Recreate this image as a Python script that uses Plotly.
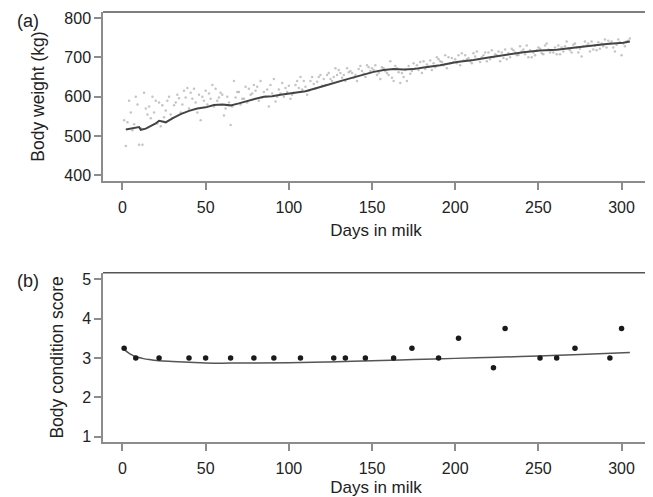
import plotly.graph_objects as go
from plotly.subplots import make_subplots

# (a) daily body weight records (three records per 3-day block)
bw_days_a = list(range(1, 305, 3))
bw_a = [540, 590, 530, 478, 610, 575, 560, 585, 548, 600, 578, 596, 615, 570, 620, 605, 590, 608,
        575, 598, 552, 585, 640, 612, 595, 620, 630, 590, 612, 575, 645, 618, 600, 628, 610, 622,
        640, 615, 632, 650, 645, 660, 650, 668, 655, 662, 648, 670, 658, 675, 668, 660, 672, 655,
        640, 662, 650, 678, 685, 668, 690, 676, 685, 695, 680, 700, 688, 705, 692, 698, 710, 695,
        705, 712, 700, 715, 698, 710, 718, 706, 720, 700, 712, 725, 708, 720, 712, 730, 715, 722,
        732, 712, 728, 735, 720, 738, 728, 742, 725, 745, 735, 742]
bw_days_b = list(range(2, 306, 3))
bw_b = [475, 560, 600, 520, 570, 545, 590, 525, 565, 555, 585, 560, 598, 610, 585, 540, 615, 595,
        620, 610, 570, 528, 598, 580, 625, 605, 615, 640, 600, 630, 588, 608, 622, 595, 630, 650,
        625, 640, 620, 655, 630, 645, 672, 660, 640, 665, 655, 678, 650, 665, 680, 645, 665, 690,
        678, 635, 668, 658, 672, 688, 670, 692, 675, 690, 705, 685, 695, 680, 705, 690, 702, 688,
        712, 695, 708, 690, 720, 700, 712, 728, 708, 718, 705, 722, 730, 712, 725, 708, 728, 718,
        735, 722, 740, 715, 730, 722, 745, 735, 715, 738, 728, 748]
bw_days_c = list(range(3, 306, 3))
bw_c = [535, 515, 580, 478, 555, 600, 532, 578, 590, 545, 605, 580, 622, 595, 560, 600, 580, 630,
        590, 605, 600, 575, 612, 595, 585, 608, 625, 598, 618, 608, 600, 635, 612, 605, 640, 618,
        605, 650, 638, 628, 655, 640, 655, 648, 672, 660, 640, 665, 680, 672, 655, 675, 660, 648,
        672, 660, 640, 665, 680, 660, 682, 668, 700, 688, 672, 698, 685, 710, 695, 685, 715, 700,
        690, 718, 705, 712, 695, 722, 705, 715, 730, 700, 718, 710, 735, 718, 708, 725, 740, 712,
        725, 702, 730, 740, 718, 735, 725, 740, 732, 705, 740]

# (a) fitted body weight curve
fit_days = [2, 6, 8, 10, 11, 14, 20, 22, 24, 26, 30, 35, 40, 45, 50, 55, 60, 65, 70, 75, 80, 85,
            90, 95, 100, 110, 121, 127, 133, 139, 145, 151, 157, 163, 169, 175, 181, 191, 201,
            211, 221, 231, 241, 251, 261, 271, 281, 291, 301, 305]
fit_bw = [517, 520, 523, 523, 516, 519, 532, 539, 537, 535, 545, 556, 564, 570, 573, 579, 580, 578,
          583, 590, 595, 600, 601, 605, 608, 614, 627, 635, 642, 649, 656, 663, 668, 670, 669,
          670, 674, 680, 688, 693, 700, 706, 713, 717, 719, 724, 729, 734, 737, 740]

# (b) body condition score
bcs_days = [1, 8, 22, 40, 50, 65, 79, 91, 107, 127, 134, 146, 163, 174, 190, 202, 223, 230, 251,
            261, 272, 293, 300]
bcs = [3.25, 3.0, 3.0, 3.0, 3.0, 3.0, 3.0, 3.0, 3.0, 3.0, 3.0, 3.0, 3.0, 3.25, 3.0, 3.5, 2.75, 3.75,
       3.0, 3.0, 3.25, 3.0, 3.75]
bcs_fit_days = [1, 3, 5, 8, 12, 16, 22, 30, 40, 50, 65, 80, 100, 124, 150, 175, 200, 225, 250,
                275, 305]
bcs_fit = [3.22, 3.15, 3.09, 3.03, 2.99, 2.96, 2.93, 2.91, 2.89, 2.87, 2.87, 2.87, 2.88, 2.90,
           2.93, 2.96, 2.99, 3.02, 3.05, 3.09, 3.14]

FONT = "Arial, Liberation Sans, sans-serif"

fig = make_subplots(rows=2, cols=1, vertical_spacing=0.213)

for dd, ww in [(bw_days_a, bw_a), (bw_days_b, bw_b), (bw_days_c, bw_c)]:
    fig.add_trace(go.Scatter(x=dd, y=ww, mode="markers",
                             marker=dict(size=2.5, color="rgba(140,140,140,0.5)"),
                             showlegend=False), row=1, col=1)
fig.add_trace(go.Scatter(x=fit_days, y=fit_bw, mode="lines",
                         line=dict(color="#444444", width=2), showlegend=False), row=1, col=1)

fig.add_trace(go.Scatter(x=bcs_fit_days, y=bcs_fit, mode="lines", line_shape="spline",
                         line=dict(color="#555555", width=1.5), showlegend=False), row=2, col=1)
fig.add_trace(go.Scatter(x=bcs_days, y=bcs, mode="markers",
                         marker=dict(size=5.5, color="#1a1a1a"), showlegend=False), row=2, col=1)

ax = dict(showgrid=False, zeroline=False, showline=True, linecolor="#8c8c8c", linewidth=1.5,
          ticks="outside", ticklen=7, tickcolor="#8c8c8c", tickwidth=1.5, automargin=False,
          tickfont=dict(size=16, color="#222"))

for r in (1, 2):
    fig.update_xaxes(ax, range=[-11.7, 316.5], tickvals=[0, 50, 100, 150, 200, 250, 300],
                     ticklabelstandoff=4,
                     title=dict(text="Days in milk", font=dict(size=17, color="#222"), standoff=9),
                     row=r, col=1)
fig.update_yaxes(ax, range=[385.5, 815], tickvals=[400, 500, 600, 700, 800],
                 title=dict(text="Body weight (kg)", font=dict(size=17.5, color="#222"), standoff=15),
                 row=1, col=1)
fig.update_yaxes(ax, range=[0.86, 5.17], tickvals=[1, 2, 3, 4, 5],
                 title=dict(text="Body condition score", font=dict(size=17.5, color="#222"), standoff=14),
                 row=2, col=1)

# top border of each panel
for xr, yr in [("x", "y"), ("x2", "y2")]:
    fig.add_shape(type="line", xref=xr + " domain", yref=yr + " domain", x0=0, x1=1, y0=1, y1=1,
                  line=dict(color="#555", width=1.5))

fig.add_annotation(text="(a)", xref="paper", yref="paper", x=-0.162, y=0.979, xanchor="left",
                   yanchor="middle", showarrow=False, font=dict(size=18, color="#222"))
fig.add_annotation(text="(b)", xref="paper", yref="paper", x=-0.162, y=0.374, xanchor="left",
                   yanchor="middle", showarrow=False, font=dict(size=18, color="#222"))

# page body keeps its default 8px margin, so the figure is a little smaller than the window
fig.update_layout(width=645, height=489, margin=dict(l=95, r=4, t=4, b=55),
                  plot_bgcolor="white", paper_bgcolor="white", font=dict(family=FONT))

fig.write_html("out.html")
